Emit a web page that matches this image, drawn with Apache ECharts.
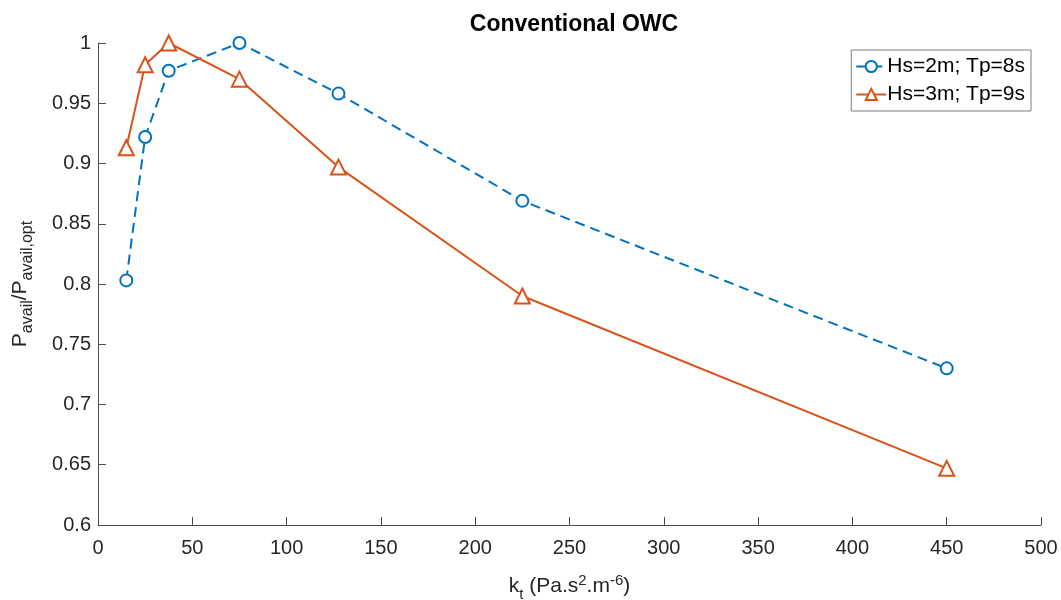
<!DOCTYPE html>
<html><head><meta charset="utf-8">
<script src="https://cdn.jsdelivr.net/npm/echarts@6/dist/echarts.min.js"></script>
<style>html,body{margin:0;padding:0;background:#fff}#c{width:1061px;height:600px}</style>
</head><body><div id="c"></div>
<script>
var kt = [15, 25, 37.5, 75, 127.5, 225, 450];
var seriesNames = ['Hs=2m; Tp=8s', 'Hs=3m; Tp=9s'];
var hs2 = [0.803, 0.922, 0.977, 1.0, 0.958, 0.869, 0.730];
var hs3 = [0.913, 0.982, 1.0, 0.970, 0.897, 0.790, 0.647];

function pairs(xs, ys){ return xs.map(function(x,i){return [x, ys[i]];}); }
var axisCol = '#4d4d4d', txtCol = '#262626', ff = 'Liberation Sans';
var chart = echarts.init(document.getElementById('c'));
chart.setOption({
  animation: false,
  title: { text: 'Conventional OWC', left: 569, top: 8, textAlign: 'center',
    textStyle: { fontFamily: ff, fontWeight: 'bold', fontSize: 23, color: '#000' } },
  grid: { left: 98, right: 20, top: 43, bottom: 75, outerBoundsMode: 'none', containLabel: false },
  legend: { right: 30, top: 50, orient: 'vertical', borderColor: '#7f7f7f', borderWidth: 1,
    padding: [6, 6, 6, 4], itemGap: 7, itemWidth: 30, itemHeight: 14,
    textStyle: { fontFamily: ff, fontSize: 21, color: '#000', padding: [0,0,0,-4] },
    data: seriesNames },
  xAxis: { type: 'value', min: 0, max: 500, interval: 50,
    name: 'k{sub|t} (Pa.s{sup|2}.m{sup|-6})', nameLocation: 'middle', nameGap: 46,
    nameTextStyle: { fontFamily: ff, fontSize: 21, color: txtCol,
      rich: { sub: { fontSize: 15, padding: [16,0,0,0], fontFamily: ff, color: txtCol },
              sup: { fontSize: 15, padding: [0,0,12,0], fontFamily: ff, color: txtCol } } },
    axisLine: { lineStyle: { color: axisCol } },
    axisTick: { inside: true, length: 8, lineStyle: { color: axisCol } },
    axisLabel: { fontFamily: ff, fontSize: 20, color: txtCol, margin: 13 },
    splitLine: { show: false } },
  yAxis: { type: 'value', min: 0.6, max: 1, interval: 0.05,
    name: 'P{sub|avail}/P{sub|avail,opt}', nameLocation: 'middle', nameGap: 62, nameRotate: 90,
    nameTextStyle: { fontFamily: ff, fontSize: 21, color: txtCol,
      rich: { sub: { fontSize: 16, padding: [16,0,0,0], fontFamily: ff, color: txtCol } } },
    axisLine: { show: true, lineStyle: { color: axisCol } },
    axisTick: { show: true, inside: true, length: 8, lineStyle: { color: axisCol } },
    axisLabel: { fontFamily: ff, fontSize: 20, color: txtCol, margin: 7,
      formatter: function(v){ return String(+v.toFixed(2)); } },
    splitLine: { show: false } },
  series: [
    { name: seriesNames[0], type: 'line', data: pairs(kt, hs2), symbol: 'circle', symbolSize: 12,
      lineStyle: { width: 2, color: '#0072BD', type: [10, 6] },
      itemStyle: { borderWidth: 2, color: '#ffffff', borderColor: '#0072BD' } },
    { name: seriesNames[1], type: 'line', data: pairs(kt, hs3), symbol: 'triangle', symbolSize: 15,
      lineStyle: { width: 2, color: '#D95319' },
      itemStyle: { borderWidth: 2, color: '#ffffff', borderColor: '#D95319' } }
  ]
});
</script></body></html>
